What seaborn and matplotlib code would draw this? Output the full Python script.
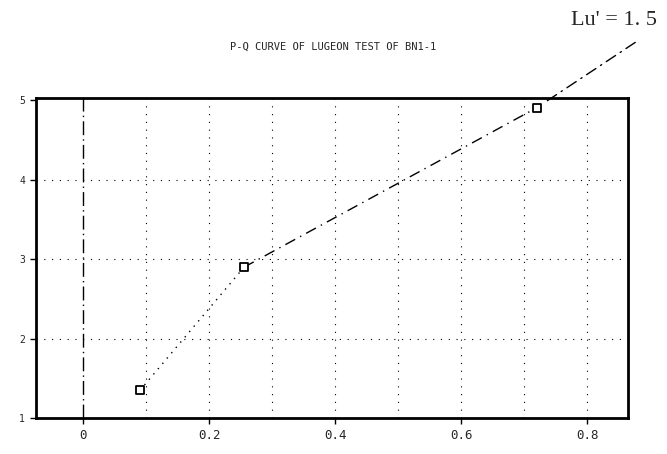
import matplotlib
matplotlib.use("Agg")
import matplotlib.pyplot as plt
import seaborn as sns
import pandas as pd

# data
q_values = [0.09, 0.255, 0.72]      # Q
p_values = [1.35, 2.9, 4.91]         # P
x_ticks = [0, 0.2, 0.4, 0.6, 0.8]
x_tick_labels = ["0", "0.2", "0.4", "0.6", "0.8"]
y_ticks = [1, 2, 3, 4, 5]
y_tick_labels = ["1", "2", "3", "4", "5"]
title_text = "P-Q CURVE OF LUGEON TEST OF BN1-1"
lu_text = "Lu' = 1. 5"

sns.set_theme(style="white")
plt.rcParams["font.family"] = ["DejaVu Sans Mono", "DejaVu Sans"]

fig = plt.figure(figsize=(6.67, 4.54), dpi=100)
ax = fig.add_axes([0.054, 0.079, 0.888, 0.705])

df = pd.DataFrame({"Q": q_values, "P": p_values})
# dotted segment (first two points) and dash-dot segment (last two points)
sns.lineplot(data=df.iloc[:2], x="Q", y="P", ax=ax, color="black", lw=1.0,
             linestyle=(0, (1, 4)), sort=False)
sns.lineplot(data=df.iloc[1:], x="Q", y="P", ax=ax, color="black", lw=1.0,
             linestyle=(0, (8, 4, 1, 4)), sort=False)
sns.scatterplot(data=df, x="Q", y="P", ax=ax, marker="s", s=40,
                facecolor="white", edgecolor="black", linewidth=1.3, zorder=5)

# grid
for xv in [0.1, 0.2, 0.3, 0.4, 0.5, 0.6, 0.7, 0.8]:
    ax.axvline(xv, color="black", lw=0.8, linestyle=(0, (1, 6)), zorder=1)
for yv in [2, 3, 4]:
    ax.axhline(yv, color="black", lw=0.8, linestyle=(0, (1, 6)), zorder=1)
ax.axvline(0, color="black", lw=1.0, linestyle=(0, (10, 3, 1, 3)), zorder=2)

ax.set_xlim(-0.075, 0.865)
ax.set_ylim(1, 5.03)
ax.set_xticks(x_ticks)
ax.set_xticklabels(x_tick_labels, fontsize=9)
ax.set_yticks(y_ticks)
ax.set_yticklabels(y_tick_labels, fontsize=7)
ax.set_xlabel("")
ax.set_ylabel("")
ax.tick_params(axis="both", direction="out", length=4, width=1, color="black",
               bottom=True, left=True, pad=4)
for sp in ax.spines.values():
    sp.set_color("black")
    sp.set_linewidth(2.0)

fig.text(0.5, 0.898, title_text, ha="center", va="center", fontsize=7.5,
         family=["DejaVu Sans Mono"])

ax.annotate(lu_text, xy=(q_values[-1], p_values[-1]), xycoords="data",
            xytext=(0.92, 0.955), textcoords="figure fraction",
            ha="center", va="center", fontsize=16,
            family=["Liberation Serif"],
            arrowprops=dict(arrowstyle="-", color="black", lw=1.0,
                            linestyle=(0, (8, 4, 1, 4)),
                            relpos=(0.97, 0.0),
                            shrinkA=12, shrinkB=9),
            annotation_clip=False)

fig.savefig("out.png", dpi=100)
